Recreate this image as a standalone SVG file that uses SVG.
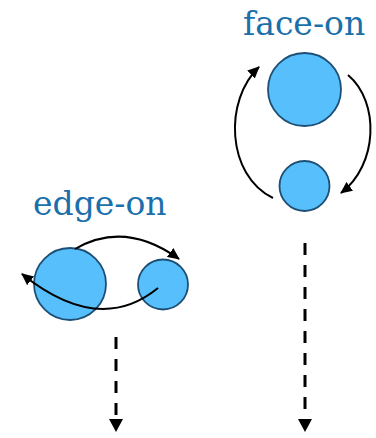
<svg xmlns="http://www.w3.org/2000/svg" width="376" height="438" viewBox="0 0 376 438">
<style>
.lbl{font-family:"DejaVu Serif",serif;font-size:33px;fill:#1b70ab;}
.body{fill:#58bffd;stroke:#1d4f75;stroke-width:1.8;}
.orb{fill:none;stroke:#000;stroke-width:2;}
.dash{fill:none;stroke:#000;stroke-width:3;stroke-dasharray:12 10;}
</style>
<defs>
<marker id="ah" markerUnits="userSpaceOnUse" markerWidth="13" markerHeight="11" refX="11" refY="5.5" orient="auto">
<path d="M0,0 L12,5.5 L0,11 Z" fill="#000"/>
</marker>
<marker id="dh" markerUnits="userSpaceOnUse" markerWidth="14" markerHeight="14" refX="1" refY="7" orient="auto">
<path d="M0,0 L13,7 L0,14 Z" fill="#000"/>
</marker>
</defs>
<g id="edge-on">
<text class="lbl" x="33" y="215">edge-on</text>
<circle class="body" cx="70" cy="284" r="36"/>
<circle class="body" cx="163" cy="284.5" r="25"/>
</g>
<g id="face-on">
<text class="lbl" x="243" y="35">face-on</text>
<circle class="body" cx="304.5" cy="89.5" r="36.5"/>
<circle class="body" cx="304.5" cy="186" r="25"/>
</g>
<g id="connectors">
<path class="orb" d="M75,249 Q125,220 179,259" marker-end="url(#ah)"/>
<path class="orb" d="M158,288 Q99,336 22,274" marker-end="url(#ah)"/>
<path class="orb" d="M273,198 C226,175 224,100 259,67" marker-end="url(#ah)"/>
<path class="orb" d="M348,75 C380,102 378,165 341,193" marker-end="url(#ah)"/>
<path class="dash" d="M116,337 L116,420" marker-end="url(#dh)"/>
<path class="dash" d="M305,243 L305,420" marker-end="url(#dh)"/>
</g>
</svg>
